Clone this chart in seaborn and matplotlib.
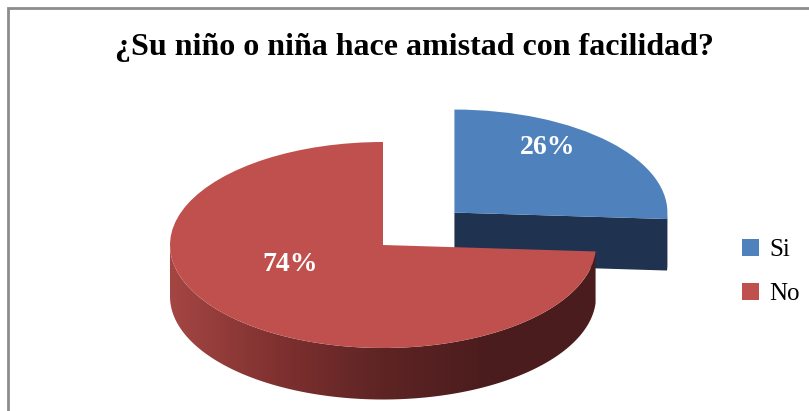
import numpy as np
import matplotlib
matplotlib.use("Agg")
import matplotlib.pyplot as plt
import seaborn as sns
from matplotlib.patches import Polygon, Patch, Rectangle
from matplotlib.colors import LinearSegmentedColormap

# datos
etiquetas = ["Si", "No"]
valores = [26, 74]
titulo = "¿Su niño o niña hace amistad con facilidad?"

sns.set_style("white")
plt.rcParams["font.family"] = ["Liberation Serif", "DejaVu Serif"]
plt.rcParams["text.color"] = "black"

colores_top = sns.color_palette(["#4f81bd", "#c0504d"])
color_lado_azul = "#1f3350"
grad_rojo = LinearSegmentedColormap.from_list(
    "lado", ["#a44643", "#7f3130", "#5e2424", "#4b1c1d", "#4a1c1d"])

# ejes en "pixeles" del grafico: centro (383, 245), semiejes 213 x 103
W, H = 809, 411
cx, cy, a, b = 383, 245, 213, 103
prof = 0.50  # profundidad del pastel (unidades de y)

fig = plt.figure(figsize=(W / 100, H / 100), dpi=100)
ax = fig.add_axes([0, 0, 1, 1])

wedges, textos, autotextos = ax.pie(
    valores, colors=colores_top, startangle=90, counterclock=False,
    explode=[0.46, 0], autopct="%1.0f%%", pctdistance=0.6,
    wedgeprops=dict(linewidth=0, edgecolor="none"),
    textprops=dict(color="white", fontsize=20, fontweight="bold"))

# lados del pastel 3D
for i, w in enumerate(wedges):
    c = np.array(w.center)
    t = np.radians(np.linspace(w.theta1, w.theta2, 400))
    t = t[np.sin(t) <= 0]
    if len(t) == 0:
        continue
    arriba = np.column_stack([c[0] + np.cos(t), c[1] + np.sin(t)])
    abajo = arriba[::-1] - [0, prof]
    if i == 0:
        # cara del corte visible en la porcion separada
        pts = np.vstack([[c], arriba, abajo, [c - [0, prof]]])
        ax.add_patch(Polygon(pts, closed=True, facecolor=color_lado_azul,
                             edgecolor="none", zorder=1))
        w.set_zorder(2)
    else:
        pts = np.vstack([arriba, abajo])
        lado = Polygon(pts, closed=True, facecolor="none", edgecolor="none")
        ax.add_patch(lado)
        img = ax.imshow(np.linspace(0, 1, 256).reshape(1, -1), cmap=grad_rojo,
                        extent=[c[0] - 1, c[0] + 1, c[1] - 1 - prof, c[1]],
                        aspect="auto", zorder=3)
        img.set_clip_path(lado)
        w.set_zorder(4)

# etiquetas un poco mas arriba (la cara superior se ve en perspectiva)
for txt in autotextos:
    x, y = txt.get_position()
    txt.set_position((x, y + 0.22))
    txt.set_zorder(5)

ax.set_xlim(-cx / a, (W - cx) / a)
ax.set_ylim((cy - H) / b, cy / b)
ax.set_aspect("auto")
ax.axis("off")

# titulo
fig.text(414 / W, 1 - 47 / H, titulo, ha="center", va="center",
         fontsize=23, fontweight="bold", color="black")

# leyenda
handles = [Patch(facecolor=col, label=lab, linewidth=0) for col, lab in zip(colores_top, etiquetas)]
fig.legend(handles=handles, loc="center left", bbox_to_anchor=(719 / W, 1 - 272 / H),
           frameon=False, fontsize=18, handlelength=0.7, handleheight=0.7,
           handletextpad=0.4, labelspacing=0.85, labelcolor="black")

# borde del grafico
fig.patches.append(Rectangle((8 / W, -0.1), 1.2, 1 - 8 / H + 0.1,
                             transform=fig.transFigure, facecolor="none",
                             edgecolor="#8c8c8c", linewidth=2))

fig.savefig("out.png", dpi=100)
